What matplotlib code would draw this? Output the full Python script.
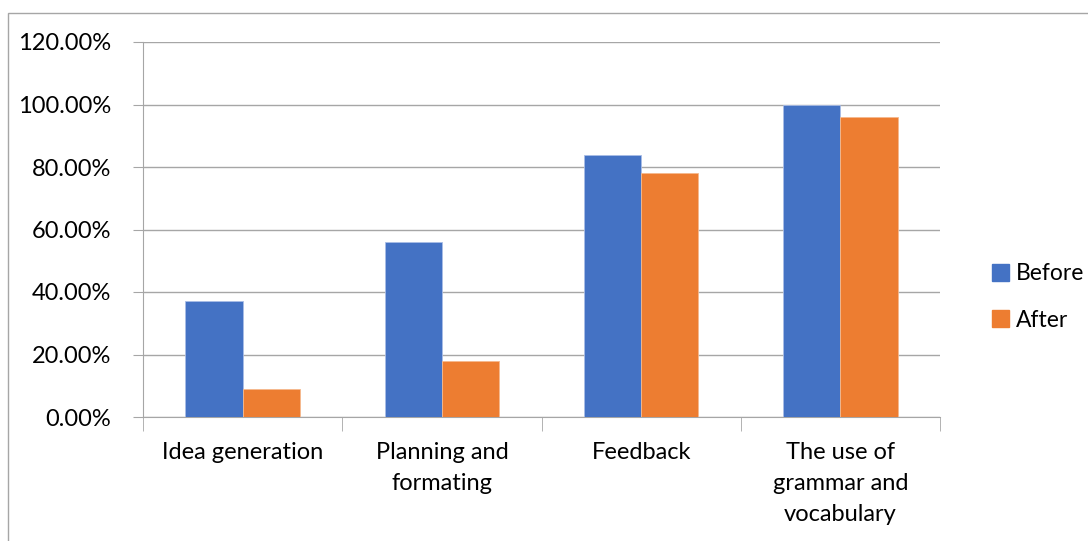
import numpy as np
import matplotlib.pyplot as plt
from matplotlib.patches import Rectangle, Patch

categories = ['Idea generation', 'Planning and\nformating', 'Feedback', 'The use of\ngrammar and\nvocabulary']
before = [37.2, 56.0, 84.0, 100.0]
after = [9.0, 18.0, 78.0, 96.0]
y_ticks = [0, 20, 40, 60, 80, 100, 120]

plt.rcParams['font.family'] = ['Lato', 'DejaVu Sans']

W, H = 1088, 541
fig = plt.figure(figsize=(W / 100, H / 100), dpi=100)
ax = fig.add_axes([143 / W, 1 - 417 / H, (940 - 143) / W, (417 - 42) / H])

# outer chart frame
fig.patches.append(Rectangle((8 / W, -0.1), 1.2, 1.1 - 13 / H, transform=fig.transFigure,
                             fill=False, edgecolor='#a6a6a6', lw=1))

x = np.arange(len(categories))
w = 0.287
ax.bar(x - w / 2, before, w, color='#4472C4', edgecolor='#a9bde6', lw=0.6, zorder=3, label='Before')
ax.bar(x + w / 2, after, w, color='#ED7D31', edgecolor='#f5b98e', lw=0.6, zorder=3, label='After')

ax.set_xlim(-0.5, len(categories) - 0.5)
ax.set_ylim(0, 120)
ax.set_yticks(y_ticks)
ax.set_yticklabels([f'{v:.2f}%' for v in y_ticks])
ax.yaxis.grid(True, color='#a6a6a6', lw=1, zorder=0)

for s in ['top', 'right']:
    ax.spines[s].set_visible(False)
ax.spines['left'].set_color('#a6a6a6')
ax.spines['bottom'].set_color('#a6a6a6')

ax.tick_params(axis='y', length=7, color='#a6a6a6', labelsize=17, pad=16)
ax.set_xticks(np.arange(-0.5, len(categories)), minor=True)
ax.set_xticks(x)
ax.set_xticklabels(categories, fontsize=17, linespacing=1.6)
ax.tick_params(axis='x', which='major', length=0, pad=18)
ax.tick_params(axis='x', which='minor', length=10, color='#a6a6a6')

handles = [Patch(color='#4472C4'), Patch(color='#ED7D31')]
fig.legend(handles, ['Before', 'After'], loc='center left', bbox_to_anchor=(992 / W, 1 - 297 / H),
           frameon=False, fontsize=16.5, handlelength=0.75, handleheight=0.75, handletextpad=0.3,
           labelspacing=1.1, borderpad=0, borderaxespad=0)

fig.savefig('out.png', dpi=100)
